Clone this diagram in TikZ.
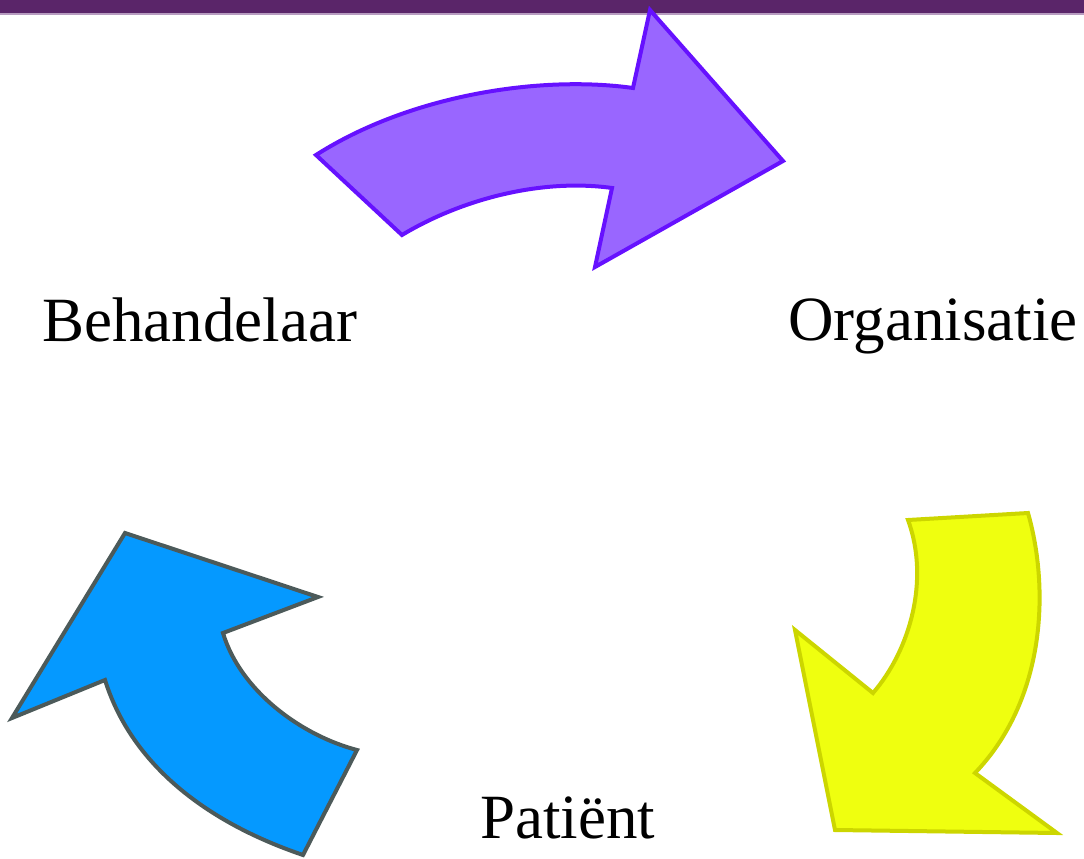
\documentclass[tikz,border=0pt]{standalone}
\usepackage{fontspec}
\setmainfont{Liberation Serif}
\usepackage{tikz}
\usetikzlibrary{positioning}
\definecolor{Plum}{HTML}{5A2569}
\definecolor{PlumLight}{HTML}{B79CC0}
\definecolor{Lilac}{HTML}{9966FF}
\definecolor{LilacLine}{HTML}{6611FF}
\definecolor{Lemon}{HTML}{EFFF0F}
\definecolor{LemonLine}{HTML}{CCD600}
\definecolor{Sky}{HTML}{0599FF}
\definecolor{SkyLine}{HTML}{4C5A5A}

\begin{document}
\begin{tikzpicture}[x=1pt, y=-1pt,
    bigarrow/.style={line width=4pt, line join=miter},
    label/.style={inner sep=0pt, anchor=base west, font=\fontsize{63}{70}\selectfont}
]
\useasboundingbox (0,0) rectangle (1084,859);

% top bar
\fill[Plum] (0,0) rectangle (1084,13);
\fill[PlumLight] (0,13) rectangle (1084,15);

% arrows
\draw[bigarrow, fill=Lilac, draw=LilacLine] (316,155) -- (402,235)
    .. controls (460,200) and (540,178) .. (612,188) -- (595,267) -- (783,161)
    -- (650,10) -- (633,88) .. controls (540,75) and (410,95) .. (316,155) -- cycle;
\draw[bigarrow, fill=Lemon, draw=LemonLine] (908,520) -- (1028,513)
    .. controls (1050,590) and (1045,700) .. (975,773) -- (1057,833) -- (835,830)
    -- (795,630) -- (873,693) .. controls (910,650) and (930,580) .. (908,520) -- cycle;
\draw[bigarrow, fill=Sky, draw=SkyLine] (303,855)
    .. controls (200,820) and (130,760) .. (105,680) -- (12,718) -- (125,533)
    -- (318,597) -- (223,633) .. controls (240,690) and (300,735) .. (357,750) -- cycle;

% labels
\node[label] (behandelaar) at (42,341) {Behandelaar};
\node[label] (organisatie) at (788,340) {Organisatie};
\node[label] (patient) at (480,838) {Patiënt};

\end{tikzpicture}
\end{document}
